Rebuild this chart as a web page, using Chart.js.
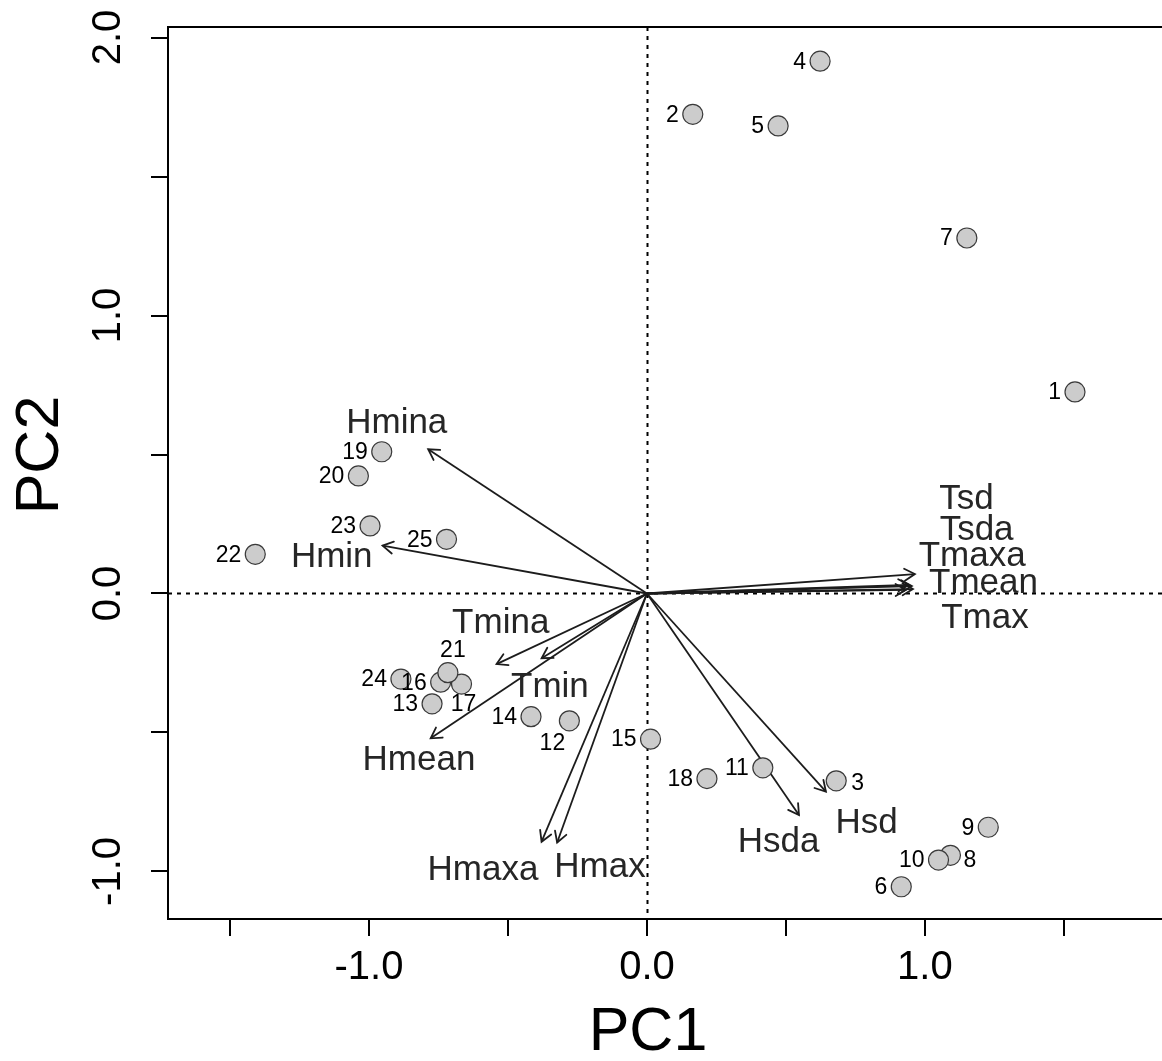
<!DOCTYPE html>
<html>
<head>
<meta charset="utf-8">
<script src="https://cdn.jsdelivr.net/npm/chart.js@4.4.1/dist/chart.umd.min.js"></script>
<style>
  html, body { margin: 0; padding: 0; background: #ffffff; }
  canvas { display: block; }
</style>
</head>
<body>
<canvas id="biplot" width="1162" height="1061"></canvas>
<script>
// Sample scores on the first two principal components
const sampleIds = ['1','2','3','4','5','6','7','8','9','10','11','12','13',
                   '14','15','16','17','18','19','20','21','22','23','24','25'];
const pc1 = [1.540, 0.165, 0.681, 0.623, 0.472, 0.915, 1.151, 1.092, 1.228, 1.049,
             0.417, -0.279, -0.773, -0.417, 0.013, -0.742, -0.667, 0.216, -0.954,
             -1.038, -0.716, -1.409, -0.996, -0.885, -0.721];
const pc2 = [0.725, 1.724, -0.674, 1.915, 1.682, -1.055, 1.279, -0.942, -0.841, -0.959,
             -0.627, -0.458, -0.397, -0.443, -0.524, -0.319, -0.326, -0.666, 0.510,
             0.423, -0.285, 0.141, 0.243, -0.308, 0.195];

// Variable loadings (arrow tips)
const variables = ['Hmina','Hmin','Tmina','Tmin','Hmean','Hmaxa','Hmax',
                   'Hsda','Hsd','Tmaxa','Tsd','Tsda','Tmean','Tmax'];
const loadPC1 = [-0.787, -0.951, -0.541, -0.379, -0.778, -0.379, -0.323,
                 0.547, 0.644, 0.964, 0.953, 0.942, 0.957, 0.932];
const loadPC2 = [0.519, 0.172, -0.254, -0.233, -0.521, -0.893, -0.896,
                 -0.797, -0.713, 0.070, 0.027, 0.031, 0.016, 0.013];

// Labelled tick values
const xTickLabels = ['-1.0', '0.0', '1.0'];
const yTickLabels = ['-1.0', '0.0', '1.0', '2.0'];

// ---- layout ------------------------------------------------------------
const FONT = '"Liberation Sans", Arial, Helvetica, sans-serif';

// where each sample number sits relative to its point
const sampleLabelSide = { '3': 'right', '8': 'right-low', '12': 'below-left',
                          '17': 'below', '21': 'above' };

// variable name anchors (centre x, baseline y) in axis units
const varLabelAt = {
  Hmina: [-0.900, 0.576], Hmin: [-1.134, 0.096], Tsd: [1.150, 0.303],
  Tsda: [1.186, 0.192], Tmaxa: [1.170, 0.099], Tmean: [1.211, 0.001],
  Tmax: [1.216, -0.125], Tmina: [-0.526, -0.143], Tmin: [-0.349, -0.373],
  Hmean: [-0.820, -0.635], Hmax: [-0.169, -1.019], Hmaxa: [-0.590, -1.031],
  Hsda: [0.474, -0.929], Hsd: [0.790, -0.863]
};

const arrowColor = '#1c1c1c';

const pointData = sampleIds.map((id, i) => ({ x: pc1[i], y: pc2[i] }));

const arrowSets = variables.map((name, i) => ({
  label: name,
  type: 'scatter',
  showLine: true,
  data: [{ x: 0, y: 0 }, { x: loadPC1[i], y: loadPC2[i] }],
  borderColor: arrowColor,
  borderWidth: 1.8,
  pointRadius: 0,
  pointHoverRadius: 0,
  fill: false,
  tension: 0,
  order: 1,
  isArrow: true
}));

const biplotDecor = {
  id: 'biplotDecor',
  beforeDatasetsDraw(chart) {
    const { ctx, chartArea: a, scales: { x, y } } = chart;
    ctx.save();
    // top edge of the plot box
    ctx.strokeStyle = '#000';
    ctx.lineWidth = 2;
    ctx.beginPath();
    ctx.moveTo(a.left, a.top);
    ctx.lineTo(a.right, a.top);
    ctx.stroke();
    // dotted reference lines through the origin
    ctx.lineWidth = 2;
    ctx.setLineDash([4, 5]);
    const x0 = Math.round(x.getPixelForValue(0)) + 0.5;
    const y0 = Math.round(y.getPixelForValue(0)) + 0.5;
    ctx.beginPath();
    ctx.moveTo(a.left, y0); ctx.lineTo(a.right, y0);
    ctx.moveTo(x0, a.top); ctx.lineTo(x0, a.bottom);
    ctx.stroke();
    ctx.restore();
  },
  afterDatasetDraw(chart, args) {
    const ds = chart.data.datasets[args.index];
    if (!ds.isArrow) return;
    const { ctx, scales: { x, y } } = chart;
    const p0 = ds.data[0], p1 = ds.data[1];
    const ox = x.getPixelForValue(p0.x), oy = y.getPixelForValue(p0.y);
    const tx = x.getPixelForValue(p1.x), ty = y.getPixelForValue(p1.y);
    const ang = Math.atan2(ty - oy, tx - ox);
    const len = 12, spread = Math.PI / 6;
    ctx.save();
    ctx.strokeStyle = arrowColor;
    ctx.lineWidth = 1.8;
    ctx.lineCap = 'round';
    ctx.beginPath();
    ctx.moveTo(tx - len * Math.cos(ang - spread), ty - len * Math.sin(ang - spread));
    ctx.lineTo(tx, ty);
    ctx.lineTo(tx - len * Math.cos(ang + spread), ty - len * Math.sin(ang + spread));
    ctx.stroke();
    ctx.restore();
  },
  afterDatasetsDraw(chart) {
    const { ctx, scales: { x, y } } = chart;
    ctx.save();
    // sample numbers
    ctx.fillStyle = '#000';
    ctx.font = '23px ' + FONT;
    ctx.textBaseline = 'middle';
    sampleIds.forEach((id, i) => {
      const px = x.getPixelForValue(pc1[i]);
      const py = y.getPixelForValue(pc2[i]);
      const side = sampleLabelSide[id] || 'left';
      let tx = px, ty = py + 1;
      if (side === 'left') { ctx.textAlign = 'right'; tx = px - 14; }
      else if (side === 'right') { ctx.textAlign = 'left'; tx = px + 15; ty = py + 3; }
      else if (side === 'right-low') { ctx.textAlign = 'left'; tx = px + 13; ty = py + 5; }
      else if (side === 'below') { ctx.textAlign = 'center'; tx = px + 2; ty = py + 21; }
      else if (side === 'below-left') { ctx.textAlign = 'center'; tx = px - 17; ty = py + 23; }
      else if (side === 'above') { ctx.textAlign = 'center'; tx = px + 5; ty = py - 22; }
      ctx.fillText(id, tx, ty);
    });
    // variable names
    ctx.fillStyle = '#262626';
    ctx.font = '35px ' + FONT;
    ctx.textAlign = 'center';
    ctx.textBaseline = 'alphabetic';
    variables.forEach(name => {
      const at = varLabelAt[name];
      ctx.fillText(name, x.getPixelForValue(at[0]), y.getPixelForValue(at[1]));
    });
    ctx.restore();
  },
  afterDraw(chart) {
    const { ctx } = chart;
    ctx.save();
    ctx.fillStyle = '#000';
    ctx.font = '61px ' + FONT;
    ctx.textAlign = 'center';
    ctx.textBaseline = 'alphabetic';
    ctx.fillText('PC1', 648, 1050);
    ctx.translate(58, 455);
    ctx.rotate(-Math.PI / 2);
    ctx.fillText('PC2', 0, 0);
    ctx.restore();
  }
};

const isLabelled = (v, list) => list.indexOf((Math.round(v * 10) / 10).toFixed(1)) >= 0
  && Math.abs(v - Math.round(v)) < 1e-6;

new Chart(document.getElementById('biplot'), {
  type: 'scatter',
  data: {
    datasets: [
      {
        label: 'samples',
        data: pointData,
        pointRadius: 10,
        pointHoverRadius: 10,
        backgroundColor: '#cccccc',
        borderColor: '#3a3a3a',
        borderWidth: 1.2,
        order: 0
      },
      ...arrowSets
    ]
  },
  options: {
    responsive: false,
    animation: false,
    devicePixelRatio: 1,
    layout: { autoPadding: false, padding: { left: 0, right: 0, top: 27, bottom: 0 } },
    plugins: { legend: { display: false }, tooltip: { enabled: false } },
    events: [],
    scales: {
      x: {
        type: 'linear',
        position: 'bottom',
        min: -1.723,
        max: 1.853,
        afterFit(scale) {
          scale.height = 142;
          scale.paddingLeft = 0; scale.paddingRight = 0;
          scale.paddingTop = 0; scale.paddingBottom = 0;
        },
        border: { display: true, color: '#000', width: 2 },
        grid: { drawOnChartArea: false, drawTicks: true, tickLength: 17, color: '#000', lineWidth: 2 },
        ticks: {
          stepSize: 0.5,
          includeBounds: false,
          autoSkip: false,
          maxRotation: 0,
          minRotation: 0,
          padding: 8,
          color: '#000',
          font: { family: FONT, size: 40 },
          callback: v => isLabelled(v, xTickLabels) ? v.toFixed(1) : ''
        }
      },
      y: {
        type: 'linear',
        position: 'left',
        min: -1.171,
        max: 2.038,
        afterFit(scale) {
          scale.width = 168;
          scale.paddingLeft = 0; scale.paddingRight = 0;
          scale.paddingTop = 0; scale.paddingBottom = 0;
        },
        border: { display: true, color: '#000', width: 2 },
        grid: { drawOnChartArea: false, drawTicks: true, tickLength: 17, color: '#000', lineWidth: 2 },
        ticks: {
          stepSize: 0.5,
          includeBounds: false,
          autoSkip: false,
          minRotation: 90,
          maxRotation: 90,
          crossAlign: 'center',
          padding: 8,
          color: '#000',
          font: { family: FONT, size: 40 },
          callback: v => isLabelled(v, yTickLabels) ? v.toFixed(1) : ''
        }
      }
    }
  },
  plugins: [biplotDecor]
});
</script>
</body>
</html>
